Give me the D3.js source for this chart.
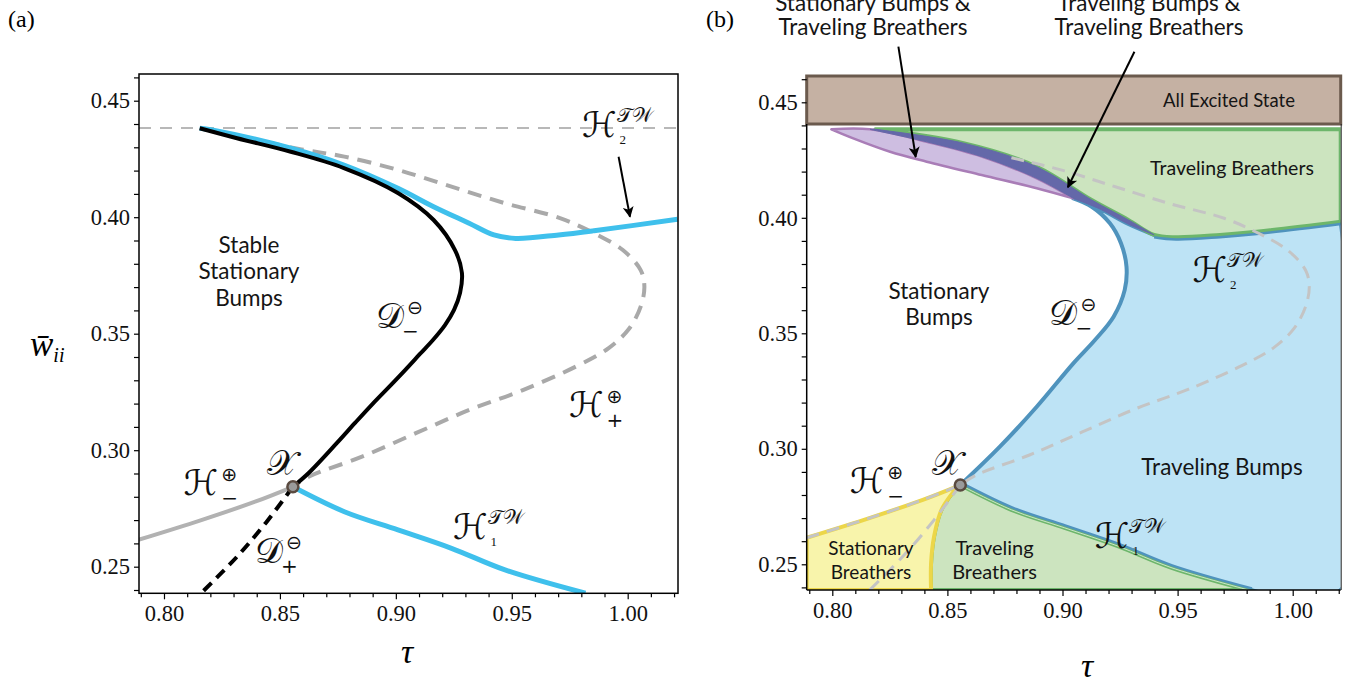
<!DOCTYPE html>
<html><head><meta charset="utf-8">
<script src="https://cdn.jsdelivr.net/npm/d3@7"></script>
<style>
body{margin:0;background:#fff;}
svg{display:block;}
</style></head>
<body><svg id="c" width="1355" height="683"></svg>
<script>
// ================= DATA =================
const xTickVals = [0.80, 0.85, 0.90, 0.95, 1.00];
const yTickVals = [0.25, 0.30, 0.35, 0.40, 0.45];
const xMinorVals = [0.79,0.81,0.82,0.83,0.84,0.86,0.87,0.88,0.89,0.91,0.92,0.93,0.94,0.96,0.97,0.98,0.99,1.01,1.02];
const yMinorVals = [0.24,0.26,0.27,0.28,0.29,0.31,0.32,0.33,0.34,0.36,0.37,0.38,0.39,0.41,0.42,0.43,0.44,0.46];

const excitedW = 0.4383;          // horizontal dashed boundary / top of regions
const excitedBoxW = 0.4406;       // lower edge of "All Excited State" band
const pointX = [0.8556, 0.2843];  // codimension-two point X

// Panel (a) curves  [tau, w]
const dMinus = [[0.8154,0.4382],[0.8315,0.4339],[0.8547,0.4281],[0.8776,0.4211],[0.9009,0.4104],
  [0.9163,0.3988],[0.9255,0.3859],[0.9285,0.3761],[0.9277,0.3675],[0.9251,0.3602],[0.9212,0.3537],
  [0.9160,0.3473],[0.9104,0.3413],[0.9040,0.3344],[0.8972,0.3273],[0.8900,0.3199],[0.8824,0.3117],
  [0.8746,0.3031],[0.8624,0.2902],[0.8556,0.2843]];
const dPlus = [[0.8556,0.2843],[0.8439,0.2688],[0.8315,0.2543],[0.8160,0.2386]];
const h2 = [[0.8154,0.4382],[0.8207,0.4374],[0.8547,0.4296],[0.8776,0.4224],[0.9009,0.4124],
  [0.9163,0.4045],[0.9316,0.3974],[0.9423,0.3924],[0.9517,0.3909],[0.9702,0.3924],[0.9855,0.3942],[1.0215,0.3991]];
const h1 = [[0.8556,0.2843],[0.8778,0.2736],[0.9009,0.2658],[0.9240,0.2579],[0.9471,0.2486],[0.9818,0.2386]];
const hPlus = [[0.8154,0.4382],[0.8380,0.4335],[0.8593,0.4291],[0.8778,0.4260],[0.9009,0.4203],
  [0.9240,0.4131],[0.9471,0.4060],[0.9702,0.3998],[0.9856,0.3931],[0.9979,0.3859],[1.0056,0.3773],
  [1.0072,0.3702],[1.0056,0.3616],[1.0005,0.3520],[0.9918,0.3438],[0.9779,0.3360],[0.9548,0.3258],
  [0.9317,0.3173],[0.9086,0.3073],[0.8854,0.2972],[0.8624,0.2886],[0.8556,0.2843]];
const hMinus = [[0.7889,0.2615],[0.8161,0.2700],[0.8393,0.2779],[0.8556,0.2843]];

// Panel (b) region boundaries [tau, w]
const bPurpleLow  = [[0.7996,0.4383],[0.8091,0.4344],[0.8251,0.4286],[0.8410,0.4243],[0.8649,0.4185],[0.8888,0.4128],[0.9047,0.4084]];
const bPurpleHigh = [[0.7997,0.4383],[0.8164,0.4383],[0.8410,0.4329],[0.8649,0.4265],[0.8888,0.4171],[0.9047,0.4084]];
const bDarkLow    = [[0.9047,0.4084],[0.9163,0.4038],[0.9286,0.3973],[0.9398,0.3926]];
const bGreenLow   = [[0.8187,0.4383],[0.8570,0.4323],[0.8888,0.4221],[0.9127,0.4077],[0.9286,0.3991],[0.9398,0.3926],
  [0.9493,0.3916],[0.9684,0.3926],[0.9844,0.3940],[1.0209,0.3983]];
const bDBoundary  = [[0.8556,0.2843],[0.8728,0.3009],[0.8888,0.3182],[0.9047,0.3370],[0.9141,0.3471],[0.9222,0.3572],
  [0.9270,0.3687],[0.9278,0.3788],[0.9254,0.3890],[0.9206,0.3976],[0.9127,0.4048],[0.9047,0.4084]];
const bYellowGreen = [[0.8521,0.2807],[0.8474,0.2735],[0.8442,0.2620],[0.8429,0.2504],[0.8429,0.2389]];

// ================= LAYOUT =================
const PA = {left:139, right:678, top:74, bottom:593.3, xd:[0.78922,1.02170], yd:[0.23858,0.46146]};
const PB = {left:806.7, right:1340.7, top:75, bottom:590, xd:[0.78888,1.02085], yd:[0.23887,0.46182]};
const FONT_SANS = "Lato, 'Open Sans', sans-serif";
const FONT_SERIF = "'Liberation Serif','Times New Roman',serif";
const FONT_MATH = "'DejaVu Serif','DejaVu Sans',serif";
const FONT_OP = "'DejaVu Sans',sans-serif";

const svg = d3.select("#c");
const defs = svg.append("defs");
defs.append("marker").attr("id","arr").attr("viewBox","0 0 10 10").attr("refX",9).attr("refY",5)
  .attr("markerUnits","userSpaceOnUse").attr("markerWidth",14).attr("markerHeight",11).attr("orient","auto")
  .append("path").attr("d","M0,0 L10,5 L0,10 L2.5,5 z").attr("fill","#000");

function scales(P){
  return {x:d3.scaleLinear().domain(P.xd).range([P.left,P.right]),
          y:d3.scaleLinear().domain(P.yd).range([P.bottom,P.top])};
}
function axes(g, P, x, y, ypad){
  const gm = g.append("g").attr("transform",`translate(0,${P.bottom})`)
    .call(d3.axisBottom(x).tickValues(xMinorVals).tickSize(4).tickSizeOuter(0).tickFormat(""));
  const gx = g.append("g").attr("transform",`translate(0,${P.bottom})`)
    .call(d3.axisBottom(x).tickValues(xTickVals).tickSize(6).tickSizeOuter(0).tickPadding(6).tickFormat(d3.format(".2f")));
  const ym = g.append("g").attr("transform",`translate(${P.left},0)`)
    .call(d3.axisLeft(y).tickValues(yMinorVals).tickSize(5).tickSizeOuter(0).tickFormat(""));
  const gy = g.append("g").attr("transform",`translate(${P.left},0)`)
    .call(d3.axisLeft(y).tickValues(yTickVals).tickSize(5).tickSizeOuter(0).tickPadding(ypad).tickFormat(d3.format(".2f")));
  [gm,gx,ym,gy].forEach(a=>{
    a.select(".domain").remove();
    a.selectAll("line").attr("stroke","#000").attr("stroke-width",1.2);
    a.selectAll("text").attr("font-family",FONT_SERIF).attr("font-size",22.5).attr("fill","#111");
  });
}
// math label: main script letter with superscript / subscript placed after its measured extent
function mathLabel(g, px, py, main, sup, sub, kind){
  const t = g.append("g").attr("fill","#111");
  const m = t.append("text").attr("x",px).attr("y",py).attr("font-family",FONT_MATH).attr("font-size",35).text(main);
  const right = px + m.node().getComputedTextLength();
  if(sup){
    const isOp = (sup==="⊕"||sup==="⊖");
    t.append("text").attr("x",right+(isOp?3:0)).attr("y",py+(isOp?-14:-15)).attr("font-size",isOp?19:20)
      .attr("font-family", isOp?FONT_OP:FONT_MATH).text(sup);
  }
  if(sub){
    const isDigit = /[0-9]/.test(sub);
    const dx = kind==="D" ? -2 : 3;
    t.append("text").attr("x",right+dx).attr("y",py+(isDigit?7:10)).attr("font-size",isDigit?13:20)
      .attr("font-family", isDigit?FONT_SERIF:FONT_OP).text(sub);
  }
}
function textLines(g, px, py, lines, size, anchor, lh){
  const t = g.append("text").attr("x",px).attr("y",py).attr("font-family",FONT_SANS)
    .attr("font-size",size).attr("text-anchor",anchor||"middle").attr("fill","#151515");
  lines.forEach((s,i)=>t.append("tspan").attr("x",px).attr("dy",i?lh:0).text(s));
}
function xMarker(g, x, y){
  g.append("circle").attr("cx",x(pointX[0])).attr("cy",y(pointX[1])).attr("r",5.5)
    .attr("fill","#9a9a9a").attr("stroke","#5a4a40").attr("stroke-width",2.5);
}
const SCRIPT = {H:"ℋ", D:"𝒟", X:"𝒳", TW:"𝒯𝒲"};

// ================= PANEL (a) =================
{
  const {x,y} = scales(PA);
  const g = svg.append("g");
  const line = d3.line().x(d=>x(d[0])).y(d=>y(d[1])).curve(d3.curveCatmullRom.alpha(0.5));
  const clip = defs.append("clipPath").attr("id","clipA");
  clip.append("rect").attr("x",PA.left).attr("y",PA.top).attr("width",PA.right-PA.left).attr("height",PA.bottom-PA.top);
  const pg = g.append("g").attr("clip-path","url(#clipA)");

  pg.append("line").attr("x1",x(PA.xd[0])).attr("x2",x(PA.xd[1])).attr("y1",y(excitedW)).attr("y2",y(excitedW))
    .attr("stroke","#b8b8b8").attr("stroke-width",2).attr("stroke-dasharray","12,9");
  pg.append("path").attr("d",line(hMinus)).attr("fill","none").attr("stroke","#b2b2b2").attr("stroke-width",4);
  pg.append("path").attr("d",line(hPlus)).attr("fill","none").attr("stroke","#a9a9a9").attr("stroke-width",4).attr("stroke-dasharray","14,9");
  pg.append("path").attr("d",line(h2)).attr("fill","none").attr("stroke","#3fc0ec").attr("stroke-width",5);
  pg.append("path").attr("d",line(h1)).attr("fill","none").attr("stroke","#3fc0ec").attr("stroke-width",5);
  pg.append("path").attr("d",line(dMinus)).attr("fill","none").attr("stroke","#000").attr("stroke-width",4);
  pg.append("path").attr("d",line(dPlus)).attr("fill","none").attr("stroke","#000").attr("stroke-width",4).attr("stroke-dasharray","11,7");
  xMarker(pg, x, y);

  g.append("rect").attr("x",PA.left).attr("y",PA.top).attr("width",PA.right-PA.left).attr("height",PA.bottom-PA.top)
    .attr("fill","none").attr("stroke","#000").attr("stroke-width",1.5);
  axes(g, PA, x, y, 4);

  textLines(g, x(0.83666), y(0.38464), ["Stable","Stationary","Bumps"], 22.5, "middle", 26.5);
  mathLabel(g, x(0.98029), y(0.43442), SCRIPT.H, SCRIPT.TW, "2", "H");
  g.append("line").attr("x1",x(0.99607)).attr("y1",y(0.42597)).attr("x2",x(1.00099)).attr("y2",y(0.40021))
    .attr("stroke","#000").attr("stroke-width",2).attr("marker-end","url(#arr)");
  mathLabel(g, x(0.89144), y(0.35245), SCRIPT.D, "⊖", "−", "D");
  mathLabel(g, x(0.97468), y(0.31425), SCRIPT.H, "⊕", "+", "H");
  mathLabel(g, x(0.80845), y(0.28077), SCRIPT.H, "⊕", "−", "H");
  mathLabel(g, x(0.84464), y(0.28936), SCRIPT.X, null, null, "X");
  mathLabel(g, x(0.83925), y(0.25159), SCRIPT.D, "⊖", "+", "D");
  mathLabel(g, x(0.92465), y(0.26190), SCRIPT.H, SCRIPT.TW, "1", "H");

  g.append("text").attr("x",407).attr("y",663).attr("text-anchor","middle").attr("font-family",FONT_SERIF)
    .attr("font-style","italic").attr("font-size",34).text("τ");
  const yl = g.append("text").attr("x",30).attr("y",356).attr("font-family",FONT_SERIF).attr("font-style","italic").attr("font-size",35);
  yl.append("tspan").text("w\u0304");
  yl.append("tspan").attr("font-size",20).attr("dy",6).text("ii");
  g.append("text").attr("x",8).attr("y",27).attr("font-family",FONT_SERIF).attr("font-size",24).text("(a)");
}

// ================= PANEL (b) =================
{
  const {x,y} = scales(PB);
  const g = svg.append("g");
  const line = d3.line().x(d=>x(d[0])).y(d=>y(d[1])).curve(d3.curveCatmullRom.alpha(0.5));
  const clip = defs.append("clipPath").attr("id","clipB");
  clip.append("rect").attr("x",PB.left).attr("y",PB.top).attr("width",PB.right-PB.left).attr("height",PB.bottom-PB.top);
  const pg = g.append("g").attr("clip-path","url(#clipB)");
  const xmin = PB.xd[0], xmax = PB.xd[1], ymin = PB.yd[0];
  const darkTip = bDarkLow[bDarkLow.length-1][0];
  const greenEndW = bGreenLow[bGreenLow.length-1][1];
  const h1End = h1[h1.length-1][0];
  const ygBottom = bYellowGreen[bYellowGreen.length-1][0];

  function region(parts, fill, stroke, sw){
    const d = parts.map((p,i)=>{
      const s = p.length>2 ? line(p) : "M"+p.map(q=>x(q[0])+","+y(q[1])).join("L");
      return i ? s.replace(/^M/,"L") : s;
    }).join("") + "Z";
    return pg.append("path").attr("d",d).attr("fill",fill).attr("stroke",stroke).attr("stroke-width",sw).attr("stroke-linejoin","round");
  }
  const rev = a=>a.slice().reverse();
  const BLUE_S = "#4f93bd", GREEN_S = "#6db66b";

  // Traveling bumps (light blue)
  region([bDBoundary, bDarkLow, bGreenLow.filter(d=>d[0]>=darkTip), [[xmax,greenEndW],[xmax,ymin],[h1End,ymin]], rev(h1)],
    "#bde3f5", BLUE_S, 4);
  // Traveling breathers top (green)
  region([[[bGreenLow[0][0],excitedW],[xmax,excitedW]], [[xmax,excitedW],[xmax,greenEndW]], rev(bGreenLow)],
    "#cce4bf", GREEN_S, 4);
  // Traveling breathers bottom (green)
  region([h1, [[h1End,ymin],[ygBottom,ymin]], rev(bYellowGreen)], "#cce4bf", GREEN_S, 4);
  // Stationary breathers (yellow)
  region([[[xmin,ymin],[xmin,hMinus[0][1]]], hMinus, bYellowGreen, [[ygBottom,ymin]]], "#f8f4ab", "#ecd649", 4);
  // Stationary bumps & traveling breathers (purple)
  region([bPurpleHigh, rev(bPurpleLow)], "#cebee1", "#a97db7", 2.5);
  // Traveling bumps & traveling breathers (dark blue)
  region([bGreenLow.filter(d=>d[0]<=darkTip), rev(bDarkLow), rev(bPurpleHigh.filter(d=>d[0]>0.81))], "#6468a9", "#6468a9", 1);

  // doubled boundary strokes (blue side / green side)
  pg.append("path").attr("d",line(h1)).attr("transform","translate(1.2,-2.2)").attr("fill","none").attr("stroke",BLUE_S).attr("stroke-width",2.5);
  pg.append("path").attr("d",line(h1)).attr("fill","none").attr("stroke","#ffffff").attr("stroke-width",0.8).attr("opacity",0.8);
  pg.append("path").attr("d",line(bGreenLow.filter(d=>d[0]>=darkTip))).attr("transform","translate(0,2.3)")
    .attr("fill","none").attr("stroke",BLUE_S).attr("stroke-width",2.5);

  // gray dashed bifurcation curves
  const dashed = (pts)=>pg.append("path").attr("d",line(pts)).attr("fill","none").attr("stroke","#c4c4c4")
    .attr("stroke-width",3).attr("stroke-dasharray","13,8");
  dashed(hMinus);
  dashed(dPlus);
  dashed(hPlus.slice(hPlus.findIndex(d=>d[0]>=0.87)));
  xMarker(pg, x, y);

  // excited band
  g.append("rect").attr("x",PB.left).attr("y",y(PB.yd[1])+1).attr("width",PB.right-PB.left).attr("height",y(excitedBoxW)-y(PB.yd[1])-1)
    .attr("fill","#c5b1a3").attr("stroke","#6b5a4d").attr("stroke-width",3);
  g.append("line").attr("x1",PB.left).attr("x2",PB.left).attr("y1",y(excitedBoxW)).attr("y2",PB.bottom).attr("stroke","#000").attr("stroke-width",1.5);
  g.append("line").attr("x1",PB.left).attr("x2",PB.right).attr("y1",PB.bottom).attr("y2",PB.bottom).attr("stroke","#000").attr("stroke-width",1.5);
  g.append("line").attr("x1",PB.right+0.5).attr("x2",PB.right+0.5).attr("y1",y(excitedBoxW)).attr("y2",PB.bottom).attr("stroke","#222").attr("stroke-width",1);
  axes(g, PB, x, y, 4);

  textLines(g, x(0.97233), y(0.44797), ["All Excited State"], 18.5, "middle", 0);
  textLines(g, x(0.97363), y(0.41853), ["Traveling Breathers"], 19.5, "middle", 0);
  textLines(g, x(0.84635), y(0.36485), ["Stationary","Bumps"], 22.5, "middle", 26.5);
  textLines(g, x(0.96929), y(0.28866), ["Traveling Bumps"], 22.5, "middle", 0);
  textLines(g, x(0.81681), y(0.25403), ["Stationary","Breathers"], 19, "middle", 24);
  textLines(g, x(0.87046), y(0.25403), ["Traveling","Breathers"], 20, "middle", 24);
  mathLabel(g, x(0.89435), y(0.35359), SCRIPT.D, "⊖", "−", "D");
  mathLabel(g, x(0.95647), y(0.37221), SCRIPT.H, SCRIPT.TW, "2", "H");
  mathLabel(g, x(0.91406), y(0.25706), SCRIPT.H, SCRIPT.TW, "1", "H");
  mathLabel(g, x(0.84331), y(0.28866), SCRIPT.X, null, null, "X");
  mathLabel(g, x(0.80756), y(0.28087), SCRIPT.H, "⊕", "−", "H");

  textLines(g, 873, 11, ["Stationary Bumps &","Traveling Breathers"], 22.5, "middle", 24);
  textLines(g, 1149, 11, ["Traveling Bumps &","Traveling Breathers"], 22.5, "middle", 24);
  g.append("line").attr("x1",x(0.82871)).attr("y1",y(0.47407)).attr("x2",x(0.83623)).attr("y2",y(0.42632))
    .attr("stroke","#000").attr("stroke-width",2).attr("marker-end","url(#arr)");
  g.append("line").attr("x1",x(0.93124)).attr("y1",y(0.47190)).attr("x2",x(0.90234)).attr("y2",y(0.41320))
    .attr("stroke","#000").attr("stroke-width",2).attr("marker-end","url(#arr)");

  g.append("text").attr("x",1087).attr("y",677).attr("text-anchor","middle").attr("font-family",FONT_SERIF)
    .attr("font-style","italic").attr("font-size",34).text("τ");
  g.append("text").attr("x",706).attr("y",27).attr("font-family",FONT_SERIF).attr("font-size",24).text("(b)");
}
</script>
</body></html>
